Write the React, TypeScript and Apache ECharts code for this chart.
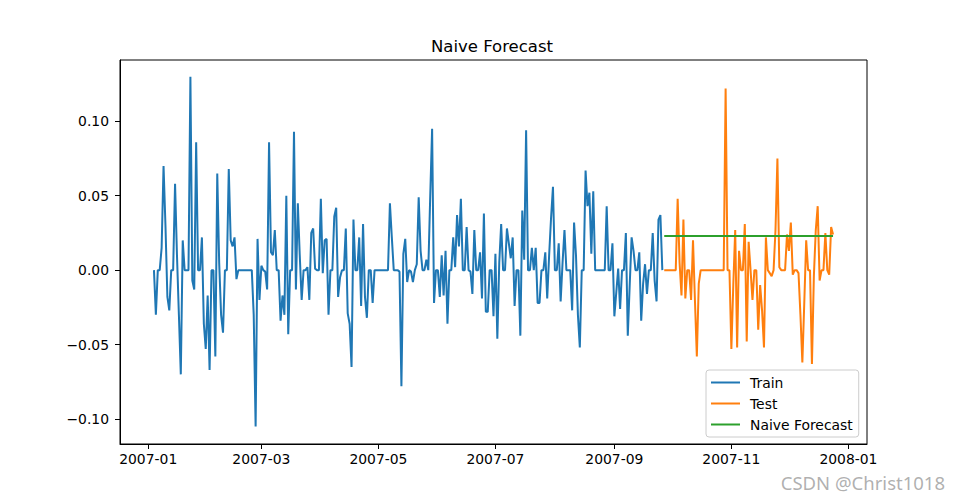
import React, { useEffect, useRef } from 'react';
import * as echarts from 'echarts';

const trainStart = '2007-01-04';
const trainValues = [
  0, -0.030, 0, 0, 0.015, 0.070, 0.030, -0.018, -0.027, 0,
  0, 0.058, 0.010, -0.030, -0.070, 0.020, 0, 0, 0, 0.130,
  -0.007, -0.013, 0.086, 0, 0, 0.022, -0.036, -0.053, -0.017, -0.067,
  0, 0, -0.058, 0.065, 0.005, -0.030, -0.042, 0, 0, 0.068,
  0.020, 0.016, 0.022, -0.006, 0, 0, 0, 0, 0, 0,
  0, 0, -0.030, -0.105, 0.021, -0.020, 0.003, 0, -0.001, -0.013,
  0.086, 0.012, 0.010, 0.027, 0, 0, -0.034, -0.017, -0.030, 0.050,
  -0.043, 0, 0, 0.093, -0.013, 0.045, 0.010, -0.020, 0, 0,
  0.002, -0.020, 0.025, 0.028, 0.001, 0, 0, 0.048, -0.002, 0.020,
  0.021, -0.030, 0, 0, 0.036, 0.042, -0.018, -0.005, 0, 0,
  0.028, -0.029, -0.036, -0.065, 0.034, 0, 0, 0.022, -0.024, 0.031,
  -0.018, -0.032, 0, 0, -0.022, 0, 0, 0, 0, 0,
  0, 0, 0, 0.045, 0.022, 0, 0, 0, -0.001, -0.078,
  0.011, 0.021, -0.008, 0, -0.001, -0.008, 0, 0.004, 0.049, 0.013,
  0, 0, 0.007, 0, 0.049, 0.095, -0.022, 0, 0, -0.018,
  0.010, -0.017, 0.013, -0.036, 0, 0, 0.022, 0.002, 0.037, 0.016,
  0.048, 0, 0, 0.029, 0, -0.001, -0.016, 0.027, 0, 0,
  0.012, -0.019, 0.038, -0.028, -0.028, 0, 0, -0.031, 0.011, -0.046,
  0.005, 0.031, 0, 0, 0.028, 0.018, 0.008, 0.022, -0.024, 0,
  0, -0.044, 0.040, 0.007, 0.094, 0, 0, 0.015, 0, 0.015,
  -0.022, -0.022, 0, 0, 0.012, -0.019, 0.010, 0.035, 0.056, 0,
  0, 0.018, -0.021, 0.005, 0.027, 0, 0, 0, -0.027, 0.032,
  0.010, -0.030, -0.052, 0, 0, 0.067, 0.043, 0.052, 0.011, 0.053,
  0, 0, 0, 0, 0, 0, 0.043, 0, 0, 0.018,
  -0.031, -0.015, 0.001, -0.026, 0, 0, 0.025, -0.044, -0.010, 0.022,
  0.013, 0, 0, 0.012, -0.034, -0.009, 0.004, -0.016, 0, 0,
  0.025, -0.007, -0.021, 0.034, 0.037, 0,
];

const testStart = '2007-09-27';
const testValues = [
  0, 0, 0, 0, 0, 0, 0, 0.048, 0.005, -0.017,
  0.034, -0.019, 0, 0, -0.020, 0.020, -0.020, -0.058, -0.009, 0,
  0, 0, 0, 0, 0, 0, 0, 0, 0, 0,
  0, 0, 0.122, 0, 0, -0.053, -0.010, 0.027, -0.052, 0.013,
  0, 0, 0.031, -0.048, 0.019, 0, -0.020, 0, 0, -0.040,
  -0.010, -0.027, -0.052, 0.022, 0, -0.002, -0.004, 0, 0.027, 0.075,
  0.002, 0, 0, 0, 0.024, 0.013, 0.032, -0.003, 0, 0,
  -0.002, -0.030, -0.062, -0.022, 0.020, 0, 0, -0.063, -0.004, 0.027,
  0.043, -0.007, 0, 0, 0.025, 0, -0.003, 0.029, 0.024,
];

const naiveForecastValue = 0.023;

const xTickLabels = ['2007-01', '2007-03', '2007-05', '2007-07', '2007-09', '2007-11', '2008-01'];
const yTickValues = [-0.1, -0.05, 0, 0.05, 0.1];

const DAY = 86400000;
const FONT = 'DejaVu Sans';

function daily(start: string, values: number[]): [number, number][] {
  const t0 = Date.parse(start);
  return values.map((v, i) => [t0 + i * DAY, v]);
}

function fmtMonth(v: number): string {
  const d = new Date(v);
  return d.getUTCFullYear() + '-' + String(d.getUTCMonth() + 1).padStart(2, '0');
}

export default function App() {
  const ref = useRef<HTMLDivElement>(null);
  useEffect(() => {
    const chart = echarts.init(ref.current!, null, { renderer: 'svg' });
    const trainData = daily(trainStart, trainValues);
    const testData = daily(testStart, testValues);
    const naiveData = testData.map(([t]) => [t, naiveForecastValue]);
    const base = Date.parse('2007-01-01');
    const xTicks = xTickLabels.map((l) => Date.parse(l + '-01'));

    chart.setOption({
      animation: false,
      backgroundColor: '#ffffff',
      title: {
        text: 'Naive Forecast',
        left: 431,
        top: 38,
        padding: 0,
        textStyle: { fontFamily: FONT, fontSize: 16.5, fontWeight: 'normal', color: '#000' },
      },
      grid: {
        left: 120,
        top: 60,
        right: 94,
        bottom: 55,
        containLabel: false,
        outerBoundsMode: 'none',
        show: true,
        borderColor: '#000',
        borderWidth: 1,
        backgroundColor: 'transparent',
      },
      xAxis: {
        type: 'value',
        min: base - 14.7 * DAY,
        max: base + 374.7 * DAY,
        splitLine: { show: false },
        axisLine: { show: true, onZero: false, lineStyle: { color: '#000', width: 1 } },
        axisTick: { show: true, length: 5, customValues: xTicks, lineStyle: { color: '#000', width: 1 } },
        axisLabel: {
          customValues: xTicks,
          formatter: (v: number) => fmtMonth(v),
          margin: 8,
          fontFamily: FONT,
          fontSize: 13.9,
          color: '#000',
        },
      },
      yAxis: {
        type: 'value',
        min: -0.1168,
        max: 0.1412,
        splitLine: { show: false },
        axisLine: { show: true, onZero: false, lineStyle: { color: '#000', width: 1 } },
        axisTick: { show: true, length: 5, customValues: yTickValues, lineStyle: { color: '#000', width: 1 } },
        axisLabel: {
          customValues: yTickValues,
          formatter: (v: number) => v.toFixed(2).replace('-', '\u2212'),
          margin: 11,
          fontFamily: FONT,
          fontSize: 13.9,
          color: '#000',
        },
      },
      legend: {
        orient: 'vertical',
        left: 706,
        top: 370,
        padding: [5.5, 6, 5.5, 5],
        icon: 'rect',
        itemWidth: 29,
        itemHeight: 2,
        itemGap: 7,
        borderColor: '#cccccc',
        borderWidth: 1,
        borderRadius: 3,
        backgroundColor: 'rgba(255,255,255,0.8)',
        textStyle: { fontFamily: FONT, fontSize: 13.9, color: '#000', lineHeight: 14, padding: [0, 0, 0, 5] },
        data: ['Train', 'Test', 'Naive Forecast'],
      },
      series: [
        {
          name: 'Train',
          type: 'line',
          data: trainData,
          showSymbol: false,
          color: '#1f77b4',
          lineStyle: { color: '#1f77b4', width: 2 },
        },
        {
          name: 'Test',
          type: 'line',
          data: testData,
          showSymbol: false,
          color: '#ff7f0e',
          lineStyle: { color: '#ff7f0e', width: 2 },
        },
        {
          name: 'Naive Forecast',
          type: 'line',
          data: naiveData,
          showSymbol: false,
          color: '#2ca02c',
          lineStyle: { color: '#2ca02c', width: 2 },
        },
      ],
      graphic: [
        {
          type: 'text',
          right: 16,
          top: 473,
          style: {
            text: 'CSDN @Christ1018',
            font: '18.5px "Noto Sans"',
            fill: 'rgba(150,150,150,0.75)',
          },
        },
      ],
    });
    return () => chart.dispose();
  }, []);
  return <div ref={ref} style={{ position: 'fixed', left: 0, top: 0, width: 961, height: 499 }} />;
}
